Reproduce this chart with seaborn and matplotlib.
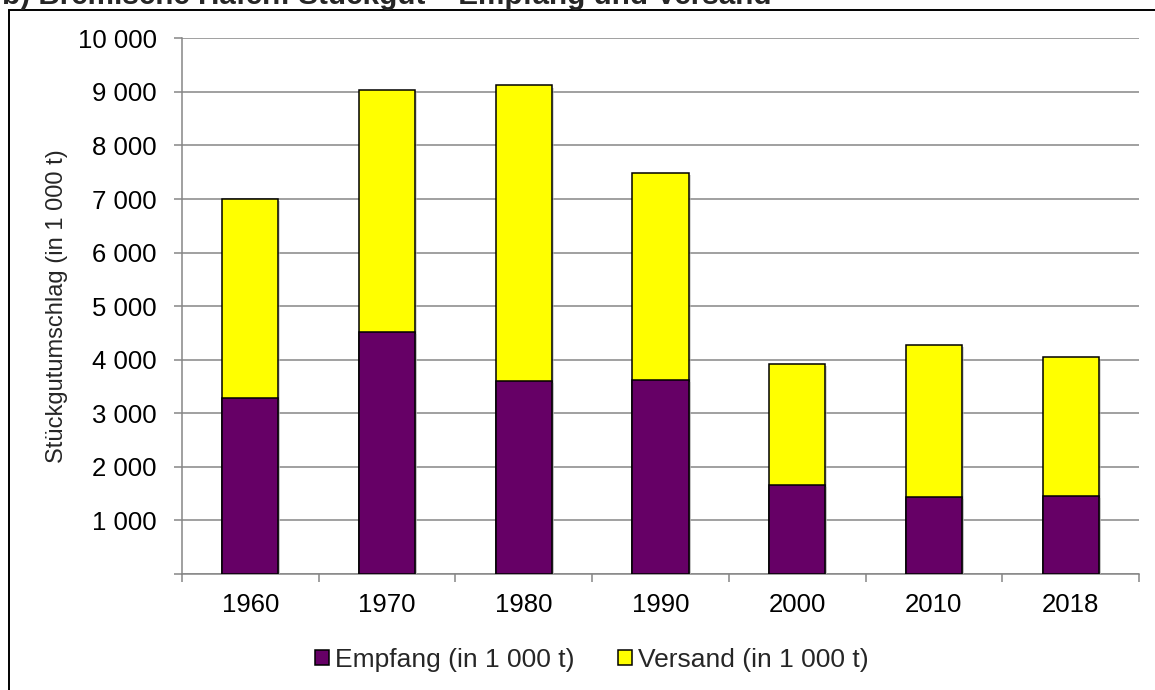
import matplotlib
matplotlib.use("Agg")
import matplotlib.pyplot as plt
import matplotlib.patches as mpatches
import matplotlib.patheffects as pe
from matplotlib.ticker import FixedLocator
import numpy as np
import pandas as pd
import seaborn as sns

# Stückgutumschlag der Bremischen Häfen (in 1 000 t)
years = ["1960", "1970", "1980", "1990", "2000", "2010", "2018"]
empfang = [3280, 4525, 3610, 3625, 1665, 1440, 1460]
versand = [3720, 4505, 5510, 3855, 2260, 2840, 2600]
y_ticks = [0, 1000, 2000, 3000, 4000, 5000, 6000, 7000, 8000, 9000, 10000]
y_labels = ["", "1 000", "2 000", "3 000", "4 000", "5 000", "6 000",
            "7 000", "8 000", "9 000", "10 000"]

title = "b) Bremische Häfen: Stückgut – Empfang und Versand"
y_title = "Stückgutumschlag (in 1 000 t)"
lbl_empfang = "Empfang (in 1 000 t)"
lbl_versand = "Versand (in 1 000 t)"

PURPLE = "#660066"
YELLOW = "#FFFF00"
GRID = "#868686"

df = pd.DataFrame({"Jahr": years, "Empfang": empfang, "Versand": versand})
df["Gesamt"] = df["Empfang"] + df["Versand"]

sns.set_theme(style="white")
plt.rcParams["font.family"] = ["Liberation Sans", "DejaVu Sans"]

fig = plt.figure(figsize=(11.55, 6.9), dpi=100)
ax = fig.add_axes([182 / 1155, 1 - 574 / 690, 957 / 1155, 535.7 / 690])

shadow = [pe.SimplePatchShadow(offset=(1.5, -1.5), shadow_rgbFace="#b0b0b0", alpha=0.5),
          pe.Normal()]

# stacked bars: total height in yellow, receipts in purple on top of it
sns.barplot(data=df, x="Jahr", y="Gesamt", order=years, color=YELLOW,
            saturation=1, width=0.41, edgecolor="black", linewidth=1.1,
            ax=ax, zorder=3)
sns.barplot(data=df, x="Jahr", y="Empfang", order=years, color=PURPLE,
            saturation=1, width=0.41, edgecolor="black", linewidth=1.1,
            ax=ax, zorder=4)
for p in ax.patches:
    p.set_path_effects(shadow)

ax.set_xlim(-0.5, len(years) - 0.5)
ax.set_ylim(0, 10000)
ax.set_yticks(y_ticks)
ax.set_yticklabels(y_labels)
ax.yaxis.grid(True, color=GRID, linewidth=1.1, zorder=0)
ax.set_axisbelow(True)

for s in ["top", "right"]:
    ax.spines[s].set_visible(False)
for s in ["left", "bottom"]:
    ax.spines[s].set_color(GRID)
    ax.spines[s].set_linewidth(1.1)

ax.tick_params(axis="y", which="major", direction="out", length=5.5, width=1.1,
               color=GRID, pad=12.5, labelsize=18.5, labelcolor="black", left=True)
ax.tick_params(axis="x", which="major", length=0, pad=14, labelsize=18.5,
               labelcolor="black")
ax.xaxis.set_minor_locator(FixedLocator(np.arange(-0.5, len(years), 1.0)))
ax.tick_params(axis="x", which="minor", direction="out", length=5.5, width=1.1,
               color=GRID, bottom=True)

ax.set_xlabel("")
ax.set_ylabel(y_title, fontsize=17)
ax.yaxis.set_label_coords((68 - 182) / 957, 0.5)

handles = [mpatches.Patch(facecolor=PURPLE, edgecolor="black", linewidth=1.1),
           mpatches.Patch(facecolor=YELLOW, edgecolor="black", linewidth=1.1)]
fig.legend(handles, [lbl_empfang, lbl_versand], loc="center",
           bbox_to_anchor=(592 / 1155, 1 - 660 / 690), ncol=2, frameon=False,
           fontsize=19, handlelength=0.53, handleheight=0.53,
           handletextpad=0.22, columnspacing=1.65)

# outer chart frame, running off the right and bottom edge
frame = mpatches.Rectangle((8.5 / 1155, -0.1), 1.2, 1 - 10 / 690 + 0.1,
                           transform=fig.transFigure, fill=False,
                           edgecolor="black", linewidth=1.4, clip_on=False)
fig.patches.append(frame)

fig.text(2 / 1155, 1 - 4 / 690, title, fontsize=21.3, fontweight="bold",
         ha="left", va="baseline")

fig.savefig("out.png", dpi=100)
